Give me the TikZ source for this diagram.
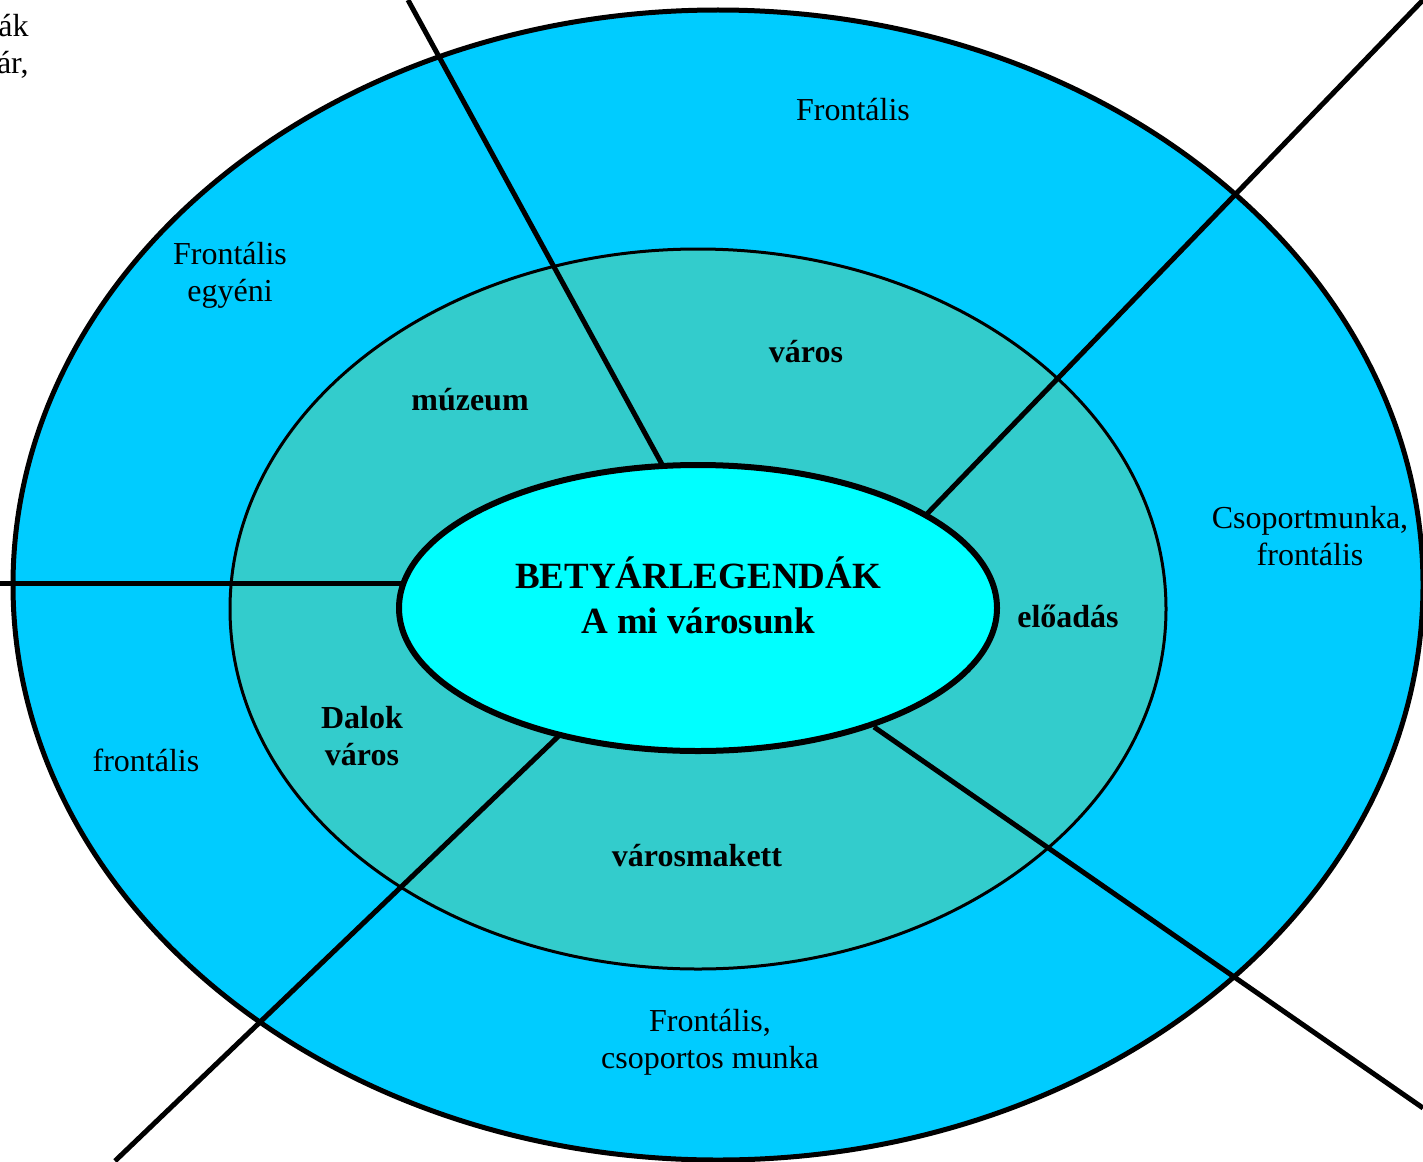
\documentclass[tikz,border=0pt]{standalone}
\usepackage{fontspec}
\setmainfont{Liberation Serif}
\usetikzlibrary{shapes.geometric}
\definecolor{outerblue}{RGB}{0,204,255}
\definecolor{midteal}{RGB}{51,204,204}
\definecolor{hubcyan}{RGB}{0,255,255}
\tikzset{
  ring/.style={draw=black,fill=outerblue,line width=2.5pt},
  midring/.style={draw=black,fill=midteal,line width=1.5pt},
  hub/.style={ellipse,draw=black,fill=hubcyan,line width=3pt,inner sep=0pt,
    minimum width=299pt,minimum height=143pt},
  hubtext/.style={align=center,font=\fontsize{18.5}{22.5}\selectfont\bfseries},
  spoke/.style={draw=black,line width=2.5pt},
  method/.style={align=center,font=\fontsize{16}{18.5}\selectfont},
  topic/.style={align=center,font=\fontsize{16}{18.5}\selectfont\bfseries}
}
\begin{document}
\begin{tikzpicture}[x=0.5pt,y=0.5pt,yscale=-1]
\useasboundingbox (0,0) rectangle (1423,1161);

%Shape: Ellipse (outer ring)
\draw [ring] (718,585) ellipse (705 and 575);
%Shape: Ellipse (middle ring)
\draw [midring] (698,609) ellipse (468 and 360);

% spoke ends
\coordinate (s1a) at (664,468);  \coordinate (s1b) at (408,0);
\coordinate (s2a) at (924,517);  \coordinate (s2b) at (1423,0);
\coordinate (s3a) at (405,583);  \coordinate (s3b) at (0,583);
\coordinate (s4a) at (567,728);  \coordinate (s4b) at (115,1161);
\coordinate (s5a) at (874,727);  \coordinate (s5b) at (1423,1108);

%Straight Lines
\foreach \i in {1,...,5}
  \draw [spoke] (s\i a) -- (s\i b);

%Shape: Ellipse (hub)
\node [hub] (hub) at (698,608) {};
% Text Node
\node [hubtext] (title) at (698,595) {BETYÁRLEGENDÁK\\A mi városunk};

% Text Node
\node [method] (mfront) at (853,110) {Frontális};
% Text Node
\node [method] (megyeni) at (230,275) {Frontális\\egyéni};
% Text Node
\node [method] (mcsop) at (1310,536) {Csoportmunka,\\frontális};
% Text Node
\node [method] (mfrontl) at (146,760) {frontális};
% Text Node
\node [method] (mcsmunka) at (710,1042) {Frontális,\\csoportos munka};
% Text Node
\node [method, align=right, inner sep=0pt, anchor=north east] (mcut) at (29,14) {ák\\ár,};

% Text Node
\node [topic] (tmuzeum) at (470,400) {múzeum};
% Text Node
\node [topic] (tvaros) at (806,352) {város};
% Text Node
\node [topic] (teload) at (1068,616) {előadás};
% Text Node
\node [topic] (tdalok) at (362,736) {Dalok\\város};
% Text Node
\node [topic] (tmakett) at (697,856) {városmakett};

\end{tikzpicture}
\end{document}
